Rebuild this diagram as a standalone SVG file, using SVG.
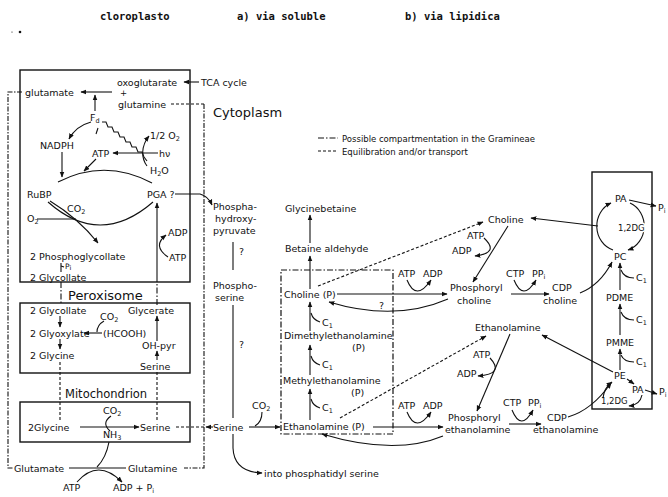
<svg xmlns="http://www.w3.org/2000/svg" width="668" height="497" viewBox="0 0 668 497">
<style>
text{font-family:"DejaVu Sans","Liberation Sans",sans-serif;font-size:9.5px;fill:#111}
.hd{font-family:"DejaVu Sans Mono","Liberation Mono",monospace;font-size:10.5px;font-weight:bold}
.big{font-size:13px}
.mid{font-size:11.5px}
.sm{font-size:8.5px}
.xs{font-size:7.5px}
.sub{font-size:6.5px}
.halo{stroke:#fff;stroke-width:3;paint-order:stroke}
.ln{fill:none;stroke:#111;stroke-width:1.1}
.ar{marker-end:url(#ah)}
.dd{stroke-dasharray:6 2 1.5 2}
.ds{stroke-dasharray:3 2}
.box{fill:none;stroke:#111;stroke-width:1.4}
</style>
<defs>
<marker id="ah" viewBox="0 0 10 10" refX="9" refY="5" markerWidth="6" markerHeight="6" orient="auto-start-reverse" markerUnits="userSpaceOnUse"><path d="M0,1 L10,5 L0,9 z" fill="#111"/></marker>
</defs>
<rect x="0" y="0" width="668" height="497" fill="#fff"/>

<g id="header">
<text class="hd" x="100" y="20">cloroplasto</text>
<text class="hd" x="237" y="20">a) via soluble</text>
<text class="hd" x="405" y="20">b) via lipidica</text>
<circle cx="20" cy="32" r="1.3" fill="#111"/>
<circle cx="12" cy="32" r="0.6" fill="#111"/>
</g>

<g id="legend">
<path class="ln dd" d="M318,138 H338"/>
<text class="sm" x="342" y="141.5">Possible compartmentation in the Gramineae</text>
<path class="ln ds" d="M318,151 H338"/>
<text class="sm" x="342" y="154.5">Equilibration and/or transport</text>
</g>

<g id="compartments">
<rect id="chloroplast" class="box" x="20" y="70" width="170" height="212"/>
<rect id="peroxisome-box" class="box" x="20" y="303" width="170" height="70"/>
<rect id="mitochondrion-box" class="box" x="20" y="402" width="170" height="40"/>
<rect id="gramineae-box" class="box dd" style="stroke-width:1.2" x="281" y="270" width="112" height="164"/>
<rect id="membrane-box" class="box" x="592" y="172" width="60" height="237"/>
<path class="ln" style="stroke-dasharray:5 1.5 1.5 1.5" d="M22,92 H8 V468 H13"/>
<path class="ln" style="stroke-dasharray:5 1.5 1.5 1.5" d="M204,104 V468 H184"/>
<text class="big" x="213" y="116.5">Cytoplasm</text>
<text class="big" x="68" y="299.5">Peroxisome</text>
<text class="mid" x="65" y="397.5">Mitochondrion</text>
</g>

<g id="connectors">
<path class="ln ar" d="M199,82 H184"/>
<path class="ln ds" d="M171,104 H204"/>
<path class="ln ar" d="M112,92 H81"/>
<path class="ln ar" d="M95,111 V95"/>
<path class="ln ar" d="M91,122 Q76,126 69,139"/>
<path class="ln" d="M96,134 L98,128"/>
<polyline class="ln" points="102,122 106,122 108,127 112,127 114,132 118,132 120,137 124,137 126,142 130,142 132,147 136,147 138,152 142,152 144,157 147,161"/>
<path class="ln ar" d="M147,166 C141,158 141,146 149,136"/>
<path class="ln ar" d="M158,153 H113"/>
<path class="ln ar" d="M96,159 L84,171"/>
<path class="ln ar" d="M62,152 V177"/>
<path class="ln" d="M58,182 Q105,158 152,183"/>
<path class="ln ar" d="M175,194 H200 Q208,196 212,205"/>
<path class="ln" d="M48,202 Q100,248 153,202"/>
<path class="ln ar" d="M50,201 Q78,218 98,243"/>
<path class="ln" d="M37,219 H76"/>
<path class="ln" d="M61,263 V272"/>
<path class="ln" d="M61,266 L64,267"/>
<path class="ln ar" d="M157,282 V203"/>
<path class="ln ar" d="M168,257 Q152,246 166,235"/>
<path class="ln dd" d="M61,282 V303"/>
<path class="ln dd" d="M157,305 V282"/>
<path class="ln ar" d="M102,333 H84"/>
<path class="ln" d="M104,321 Q97,325 97,332"/>
<path class="ln ar" d="M60,316 V327"/>
<path class="ln ar" d="M60,339 V349"/>
<path class="ln ar" d="M157,360 V351"/>
<path class="ln ar" d="M157,341 V316"/>
<path class="ln ds" d="M60,362 V421"/>
<path class="ln ds" d="M157,420 V372"/>
<path class="ln ar" d="M80,427 H139"/>
<path class="ln" d="M111,416 Q101,423 110,431"/>
<path class="ln ds" d="M176,427 H205"/>
<path class="ln ar" d="M213,427 H206"/>
<path class="ln" d="M69,468 H126"/>
<path class="ln" d="M109,442 Q106,458 97,467"/>
<path class="ln ar" d="M77,482 Q98,458 122,482"/>
<path class="ln" d="M233,242 V270"/>
<path class="ln" d="M233,305 V418"/>
<path class="ln ar" d="M233,434 V448 Q234,472 262,473"/>
<path class="ln ar" d="M249,427 H280"/>
<path class="ln" d="M262,412 Q262,422 255,426"/>
<path class="ln ar" d="M310,289 V256"/>
<path class="ln ar" d="M310,243 V215"/>
<path class="ln ar" d="M310,331 V302"/>
<path class="ln" d="M311,313 Q313,320 320,322"/>
<path class="ln ar" d="M310,375 V345"/>
<path class="ln" d="M311,356 Q313,363 320,365"/>
<path class="ln ar" d="M310,420 V389"/>
<path class="ln" d="M311,399 Q313,406 320,408"/>
<path class="ln ds ar" d="M318,286 L483,222"/>
<path class="ln ar" d="M337,294 H447"/>
<path class="ln ar" d="M407,280 Q416,302 431,280"/>
<path class="ln ar" d="M448,299 Q395,322 329,302"/>
<path class="ln ar" d="M508,226 L473,282"/>
<path class="ln ar" d="M484,238 Q500,253 475,256"/>
<path class="ln ar" d="M598,226 L531,218"/>
<path class="ln ar" d="M514,280 Q523,302 536,280"/>
<path class="ln ar" d="M511,294 H549"/>
<path class="ln ar" d="M580,293 Q600,285 612,262"/>
<path class="ln ds ar" d="M340,418 L486,336"/>
<path class="ln ar" d="M510,334 L477,411"/>
<path class="ln ar" d="M490,358 Q505,374 478,376"/>
<path class="ln ar" d="M373,427 H443"/>
<path class="ln ar" d="M407,412 Q416,434 431,412"/>
<path class="ln ar" d="M443,436 Q395,456 322,434"/>
<path class="ln ar" d="M512,410 Q521,432 533,410"/>
<path class="ln ar" d="M509,424 H541"/>
<path class="ln ar" d="M568,417 Q592,410 611,383"/>
<path class="ln ar" d="M613,372 L542,335"/>
<path class="ln ar" d="M629,200 L656,206"/>
<path class="ln ar" d="M613,250 A23,25 0 0 1 611,203"/>
<path class="ln ar" d="M630,203 A23,25 0 0 1 628,250"/>
<path class="ln ar" d="M620,290 V263"/>
<path class="ln" d="M621,270 Q624,278 634,278"/>
<path class="ln ar" d="M620,335 V304"/>
<path class="ln" d="M621,312 Q624,320 634,320"/>
<path class="ln ar" d="M620,370 V349"/>
<path class="ln" d="M621,355 Q624,362 634,362"/>
<path class="ln ar" d="M627,379 L634,384"/>
<path class="ln ar" d="M645,390 L657,394"/>
<path class="ln ar" d="M642,395 Q640,405 629,406"/>
<path class="ln ar" d="M603,398 Q604,388 612,382"/>
</g>

<g id="n-oxoglutarate"><text x="117" y="85.5">oxoglutarate</text></g>
<g id="n-tca"><text x="201" y="85.5">TCA cycle</text></g>
<g id="n-plus"><text class="sm" x="120" y="96">+</text></g>
<g id="n-glutamine"><text x="118" y="107.5">glutamine</text></g>
<g id="n-glutamate"><text x="25" y="95.5">glutamate</text></g>
<g id="n-fd"><text x="90" y="121">F<tspan class="sub" dy="2">d</tspan></text></g>
<g id="n-o2half"><text x="150" y="138.5">1/2 O<tspan class="sub" dy="2">2</tspan></text></g>
<g id="n-nadph"><text x="40" y="148.5">NADPH</text></g>
<g id="n-atp1"><text x="92" y="156.5">ATP</text></g>
<g id="n-hv"><text x="159" y="156.5">hν</text></g>
<g id="n-h2o"><text x="150" y="173.5">H<tspan class="sub" dy="2">2</tspan><tspan dy="-2">O</tspan></text></g>
<g id="n-rubp"><text x="27" y="197.5">RuBP</text></g>
<g id="n-pga"><text x="147" y="197.5">PGA ?</text></g>
<g id="n-co2a"><text x="67" y="211.5">CO<tspan class="sub" dy="2">2</tspan></text></g>
<g id="n-o2"><text x="27" y="221.5">O<tspan class="sub" dy="2">2</tspan></text></g>
<g id="n-adp1"><text x="168" y="235.5">ADP</text></g>
<g id="n-atp2"><text x="169" y="260.5">ATP</text></g>
<g id="n-phosphoglycollate"><text x="30" y="259.5">2 Phosphoglycollate</text></g>
<g id="n-pi1"><text class="xs" x="65" y="269">P<tspan class="sub" dy="1">i</tspan></text></g>
<g id="n-glycollate1"><text x="30" y="281">2 Glycollate</text></g>

<g id="n-glycollate2"><text x="30" y="313.5">2 Glycollate</text></g>
<g id="n-co2b"><text x="100" y="319.5">CO<tspan class="sub" dy="2">2</tspan></text></g>
<g id="n-glycerate"><text x="128" y="313.5">Glycerate</text></g>
<g id="n-glyoxylate"><text x="30" y="336.5">2 Glyoxylate</text></g>
<g id="n-hcooh"><text x="103" y="336.5">(HCOOH)</text></g>
<g id="n-ohpyr"><text x="142" y="348.5">OH-pyr</text></g>
<g id="n-glycine1"><text x="30" y="358.5">2 Glycine</text></g>
<g id="n-serine1"><text x="140" y="369.5">Serine</text></g>

<g id="n-co2c"><text x="103" y="413.5">CO<tspan class="sub" dy="2">2</tspan></text></g>
<g id="n-glycine2"><text x="28" y="430.5">2Glycine</text></g>
<g id="n-serine2"><text x="140" y="430.5">Serine</text></g>
<g id="n-nh3"><text x="103" y="438">NH<tspan class="sub" dy="2">3</tspan></text></g>
<g id="n-glutamate2"><text x="14" y="471.5">Glutamate</text></g>
<g id="n-glutamine2"><text x="128" y="471.5">Glutamine</text></g>
<g id="n-atp3"><text x="63" y="490.5">ATP</text></g>
<g id="n-adp3"><text x="113" y="490.5">ADP + P<tspan class="sub" dy="2">i</tspan></text></g>

<g id="n-phosphohydroxypyruvate"><text x="213" y="209.5">Phospha-</text><text x="215" y="221.5">hydroxy-</text><text x="213" y="233.5">pyruvate</text></g>
<g id="n-q1"><text x="239" y="255">?</text></g>
<g id="n-phosphoserine"><text x="213" y="288.5">Phospho-</text><text x="215" y="300.5">serine</text></g>
<g id="n-q2"><text x="239" y="348">?</text></g>
<g id="n-serine3"><text x="213" y="430.5">Serine</text></g>
<g id="n-co2d"><text x="252" y="408.5">CO<tspan class="sub" dy="2">2</tspan></text></g>
<g id="n-ptdser"><text x="264" y="476.5">into phosphatidyl serine</text></g>

<g id="n-glycinebetaine"><text x="285" y="211.5">Glycinebetaine</text></g>
<g id="n-betainealdehyde"><text x="285" y="251.5">Betaine aldehyde</text></g>
<g id="n-cholinep"><text x="284" y="297.5">Choline (P)</text></g>
<g id="n-c1a"><text x="322" y="326">C<tspan class="sub" dy="2">1</tspan></text></g>
<g id="n-dme"><text x="284" y="338.5">Dimethylethanolamine</text><text x="352" y="350.5">(P)</text></g>
<g id="n-c1b"><text x="322" y="368">C<tspan class="sub" dy="2">1</tspan></text></g>
<g id="n-mme"><text x="283" y="383.5">Methylethanolamine</text><text x="351" y="395.5">(P)</text></g>
<g id="n-c1c"><text x="322" y="411">C<tspan class="sub" dy="2">1</tspan></text></g>
<g id="n-ethanolaminep"><text x="283" y="429.5">Ethanolamine (P)</text></g>

<g id="n-atp4"><text x="398" y="276.5">ATP</text></g>
<g id="n-adp4"><text x="423" y="276.5">ADP</text></g>
<g id="n-q3"><text x="379" y="309">?</text></g>
<g id="n-phosphorylcholine"><text x="450" y="290.5">Phosphoryl</text><text x="457" y="303.5">choline</text></g>
<g id="n-choline"><text x="488" y="222.5">Choline</text></g>
<g id="n-atp5"><text x="467" y="238.5">ATP</text></g>
<g id="n-adp5"><text x="452" y="253.5">ADP</text></g>
<g id="n-ctp1"><text x="506" y="276.5">CTP</text></g>
<g id="n-ppi1"><text x="532" y="276.5">PP<tspan class="sub" dy="2">i</tspan></text></g>
<g id="n-cdpcholine"><text x="552" y="290.5">CDP</text><text x="543" y="303.5">choline</text></g>

<g id="n-ethanolamine"><text x="475" y="330.5">Ethanolamine</text></g>
<g id="n-atp6"><text x="473" y="357.5">ATP</text></g>
<g id="n-adp6"><text x="457" y="376.5">ADP</text></g>
<g id="n-atp7"><text x="398" y="408.5">ATP</text></g>
<g id="n-adp7"><text x="423" y="408.5">ADP</text></g>
<g id="n-phosphorylethanolamine"><text x="448" y="420.5">Phosphoryl</text><text x="445" y="432.5">ethanolamine</text></g>
<g id="n-ctp2"><text x="503" y="405.5">CTP</text></g>
<g id="n-ppi2"><text x="528" y="405.5">PP<tspan class="sub" dy="2">i</tspan></text></g>
<g id="n-cdpethanolamine"><text x="547" y="420.5">CDP</text><text x="533" y="432.5">ethanolamine</text></g>

<g id="n-pa1"><text x="615" y="201.5">PA</text></g>
<g id="n-pi2"><text x="658" y="210.5">P<tspan class="sub" dy="2">i</tspan></text></g>
<g id="n-dg1"><text class="sm halo" x="618" y="231">1,2DG</text></g>
<g id="n-pc"><text x="614" y="259.5">PC</text></g>
<g id="n-c1d"><text x="636" y="281">C<tspan class="sub" dy="2">1</tspan></text></g>
<g id="n-pdme"><text x="606" y="300.5">PDME</text></g>
<g id="n-c1e"><text x="636" y="323">C<tspan class="sub" dy="2">1</tspan></text></g>
<g id="n-pmme"><text x="606" y="345.5">PMME</text></g>
<g id="n-c1f"><text x="636" y="365">C<tspan class="sub" dy="2">1</tspan></text></g>
<g id="n-pe"><text x="614" y="378.5">PE</text></g>
<g id="n-pa2"><text x="632" y="392.5">PA</text></g>
<g id="n-pi3"><text x="659" y="395">P<tspan class="sub" dy="2">i</tspan></text></g>
<g id="n-dg2"><text class="sm" x="601" y="403.5">1,2DG</text></g>
</svg>
